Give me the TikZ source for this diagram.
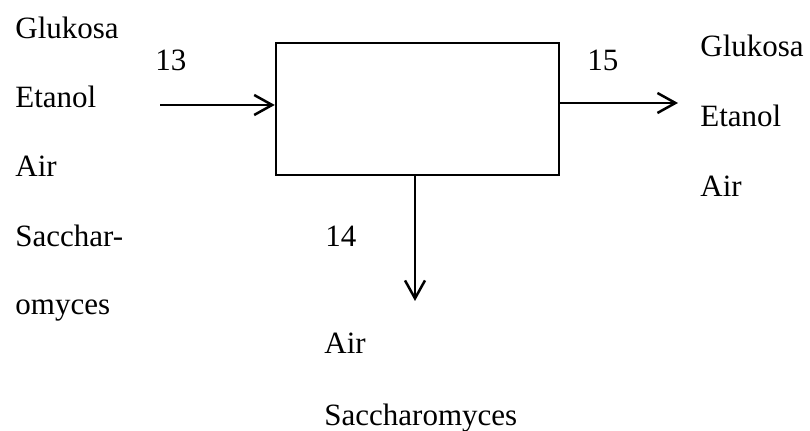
\documentclass[tikz,border=0pt]{standalone}
\usepackage{fontspec}
\setmainfont{Liberation Serif}
\usetikzlibrary{arrows.meta}

\begin{document}
\begin{tikzpicture}[
    x=0.5pt, y=-0.5pt,
    kotak/.style={draw, line width=1.25pt, minimum width=141.5pt,
                  minimum height=66pt, inner sep=0pt},
    panah/.style={-{Straight Barb[length=9pt, width=10pt]}, line width=1.25pt},
    teks/.style={anchor=base west, inner sep=0pt,
                 font=\fontsize{15.5}{18}\selectfont}]
  \useasboundingbox (0,0) rectangle (810,431);
  \node[kotak] (unit) at (417.5,109) {};
  % arus 13, 14, 15
  \coordinate (masuk) at (160,105);
  \coordinate (keluar) at (678,103);
  \coordinate (bawah) at (415,301);
  \draw[panah] (masuk) -- (masuk -| unit.west);
  \draw[panah] (unit.east |- keluar) -- (keluar);
  \draw[panah] (unit.south -| bawah) -- (bawah);
  \node[teks] (n13) at (155,71) {13};
  \node[teks] (n15) at (587,71) {15};
  \node[teks] (n14) at (325,247) {14};
  % komponen masuk
  \node[teks] (m1) at (15,39) {Glukosa};
  \node[teks] (m2) at (15,108) {Etanol};
  \node[teks] (m3) at (15,177) {Air};
  \node[teks] (m4) at (15,247) {Sacchar-};
  \node[teks] (m5) at (15,315) {omyces};
  % komponen keluar
  \node[teks] (k1) at (700,57) {Glukosa};
  \node[teks] (k2) at (700,127) {Etanol};
  \node[teks] (k3) at (700,197) {Air};
  \node[teks] (b1) at (324,354) {Air};
  \node[teks] (b2) at (324,426) {Saccharomyces};
\end{tikzpicture}
\end{document}
